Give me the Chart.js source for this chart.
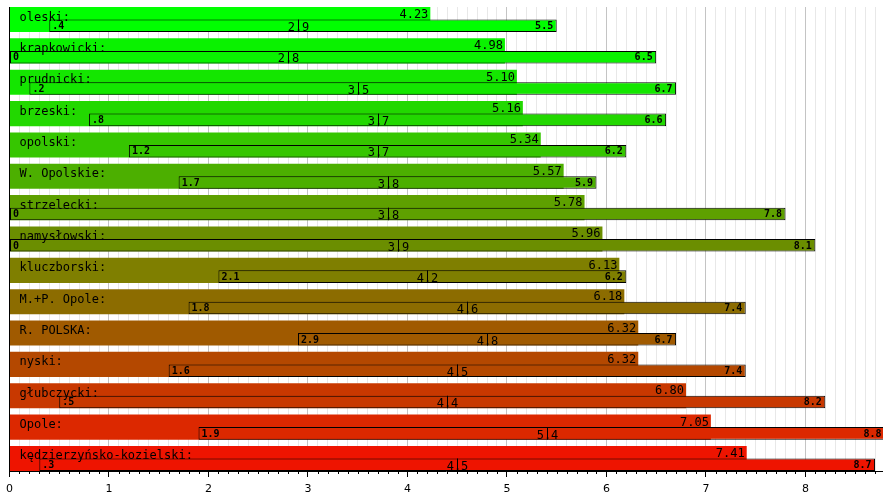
<!DOCTYPE html>
<html>
<head>
<meta charset="utf-8">
<title>Powiaty - wykres</title>
<script src="https://cdn.jsdelivr.net/npm/chart.js@4.4.1/dist/chart.umd.min.js"></script>
<style>
  html, body { margin: 0; padding: 0; background: #fff; }
  #wrap { width: 883px; height: 494px; }
</style>
</head>
<body>
<div id="wrap"><canvas id="chart" width="883" height="494"></canvas></div>
<script>
const regions = ['oleski', 'krapkowicki', 'prudnicki', 'brzeski', 'opolski', 'W. Opolskie', 'strzelecki',
    'namysłowski', 'kluczborski', 'M.+P. Opole', 'R. POLSKA', 'nyski', 'głubczycki', 'Opole',
    'kędzierzyńsko-kozielski'];
const meanValues = [4.23, 4.98, 5.10, 5.16, 5.34, 5.57, 5.78, 5.96, 6.13, 6.18, 6.32, 6.32, 6.80, 7.05, 7.41];
const minValues = [0.4, 0, 0.2, 0.8, 1.2, 1.7, 0, 0, 2.1, 1.8, 2.9, 1.6, 0.5, 1.9, 0.3];
const medianValues = [2.9, 2.8, 3.5, 3.7, 3.7, 3.8, 3.8, 3.9, 4.2, 4.6, 4.8, 4.5, 4.4, 5.4, 4.5];
const maxValues = [5.5, 6.5, 6.7, 6.6, 6.2, 5.9, 7.8, 8.1, 6.2, 7.4, 6.7, 7.4, 8.2, 8.8, 8.7];
const xTickLabels = [0, 1, 2, 3, 4, 5, 6, 7, 8];

// row colours, green at the top to red at the bottom
const rowColors = ['#00ff00', '#0af200', '#14e600', '#22d800', '#36c600', '#4caf00', '#5ea000', '#6b8e00',
    '#7f7f00', '#8c6c00', '#a05a00', '#b44800', '#c83800', '#dc2800', '#ee1400'];

const MONO = '"DejaVu Sans Mono", monospace';

function isWhole(v) {
    return Math.abs(v - Math.round(v)) < 1e-6;
}

// ".4" style for values below one, "0" for zero
function shortNum(v) {
    if (v === 0) return '0';
    const s = v.toFixed(1);
    return v < 1 ? s.slice(1) : s;
}

const rowLabels = {
    id: 'rowLabels',
    afterDraw(chart) {
        const ctx = chart.ctx;
        const x = chart.scales.x;
        const rangeMeta = chart.getDatasetMeta(1);
        const meanMeta = chart.getDatasetMeta(2);
        ctx.save();
        ctx.fillStyle = '#000';
        ctx.strokeStyle = '#000';
        ctx.lineWidth = 1;

        regions.forEach((name, i) => {
            const mb = meanMeta.data[i];
            const rb = rangeMeta.data[i];
            const mTop = mb.y - mb.height / 2;
            const rTop = rb.y - rb.height / 2;
            const rBottom = rb.y + rb.height / 2;

            // region name
            ctx.font = '12px ' + MONO;
            ctx.textAlign = 'left';
            ctx.textBaseline = 'alphabetic';
            ctx.fillText(name + ':', 19.5, mTop + 13.5);

            // mean value at the end of the wide bar
            ctx.textAlign = 'right';
            ctx.fillText(meanValues[i].toFixed(2), mb.x - 2, mTop + 11);

            // min / max inside the range bar
            ctx.font = 'bold 10px ' + MONO;
            ctx.textAlign = 'left';
            ctx.fillText(shortNum(minValues[i]), rb.base + 3, rBottom - 3);
            ctx.textAlign = 'right';
            ctx.fillText(maxValues[i].toFixed(1), rb.x - 3.5, rBottom - 3);

            // median marker
            const mx = Math.round(x.getPixelForValue(medianValues[i])) + 0.5;
            ctx.font = '12px ' + MONO;
            ctx.textAlign = 'center';
            ctx.fillText(medianValues[i].toFixed(1), mx, rBottom - 1);
            ctx.beginPath();
            ctx.moveTo(mx, rTop);
            ctx.lineTo(mx, rBottom);
            ctx.stroke();
        });

        // minor tick marks under the axis
        const bottom = chart.chartArea.bottom;
        x.ticks.forEach(t => {
            if (isWhole(t.value)) return;
            const px = Math.round(x.getPixelForValue(t.value)) + 0.5;
            ctx.beginPath();
            ctx.moveTo(px, bottom);
            ctx.lineTo(px, bottom + 3);
            ctx.stroke();
        });
        ctx.restore();
    }
};

const rows = regions.map((_, i) => i);

new Chart(document.getElementById('chart'), {
    type: 'bar',
    data: {
        datasets: [
            {
                // empty slot so the range bar sits in the lower half of the row
                label: 'slot',
                data: rows.map(i => ({ x: null, y: i })),
                order: 0
            },
            {
                label: 'range',
                data: rows.map(i => ({ x: [minValues[i], maxValues[i]], y: i })),
                backgroundColor: rowColors,
                borderColor: '#000',
                borderWidth: 1,
                borderSkipped: false,
                order: 1
            },
            {
                label: 'mean',
                data: rows.map(i => ({ x: meanValues[i], y: i })),
                backgroundColor: rowColors,
                borderWidth: 0,
                grouped: false,
                order: 2
            }
        ]
    },
    options: {
        indexAxis: 'y',
        responsive: false,
        animation: false,
        categoryPercentage: 0.8,
        barPercentage: 1,
        layout: { padding: { left: 9, top: 7, right: 0, bottom: 0 } },
        plugins: {
            legend: { display: false },
            tooltip: { enabled: false }
        },
        scales: {
            x: {
                type: 'linear',
                min: 0,
                max: 8.78,
                offset: false,
                afterBuildTicks: scale => {
                    const ticks = [];
                    for (let k = 0; k <= 87; k++) ticks.push({ value: k / 10 });
                    scale.ticks = ticks;
                },
                afterFit: scale => {
                    scale.height = 23;
                },
                grid: {
                    offset: false,
                    color: c => isWhole(c.tick.value) ? '#c4c4c4' : '#e8e8e8',
                    tickColor: c => isWhole(c.tick.value) ? '#000' : 'rgba(0,0,0,0)',
                    tickLength: 6
                },
                border: { display: true, color: '#000', width: 1 },
                ticks: {
                    autoSkip: false,
                    maxRotation: 0,
                    padding: 6,
                    color: '#000',
                    font: { family: 'DejaVu Sans', size: 11 },
                    callback: v => {
                        const n = Math.round(v);
                        return isWhole(v) && xTickLabels.includes(n) ? String(n) : '';
                    }
                }
            },
            y: {
                type: 'linear',
                reverse: true,
                offset: false,
                min: -0.4,
                max: regions.length - 0.6,
                afterBuildTicks: scale => {
                    scale.ticks = rows.map(i => ({ value: i }));
                },
                grid: { display: false, drawTicks: false, offset: false },
                border: { display: true, color: '#000', width: 1 },
                ticks: { display: false }
            }
        }
    },
    plugins: [rowLabels]
});
</script>
</body>
</html>
